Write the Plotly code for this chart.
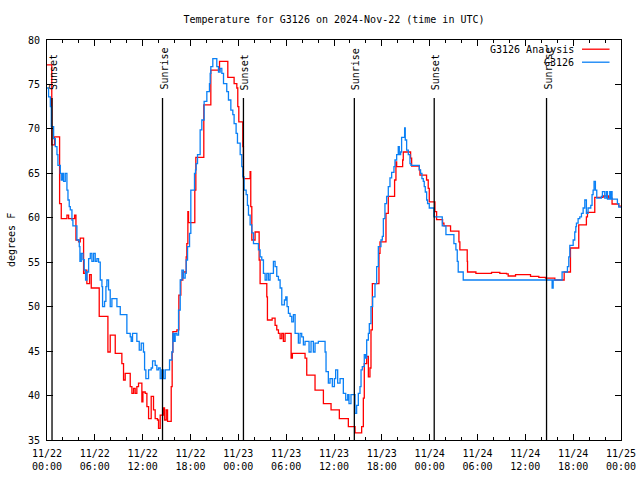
import pandas as pd
import plotly.graph_objects as go

# ---------------- data ----------------
base_time = "2024-11-22 00:00"

# G3126 Analysis (red) : hours after 11/22 00:00 UTC, temperature (F)
analysis_hours = [0, 0.6, 0.95, 1.58, 1.79, 2.5, 2.71, 3.46, 3.63, 3.96, 4.17, 4.59, 4.8, 5.0, 5.34, 5.55,
                  6.55, 7.64, 7.93, 8.56, 9.39, 9.6, 9.81, 10.44, 10.65, 10.86, 11.06, 11.27, 11.48, 11.9,
                  12.03, 12.32, 12.53, 12.74, 13.07, 13.36, 13.57, 13.86, 13.99, 14.2, 14.6, 14.74, 14.95,
                  15.12, 15.58, 15.7, 15.79, 16.29, 16.54, 16.79, 17.04, 17.46, 17.54, 17.67, 17.75, 18.54,
                  18.67, 19.67, 20.55, 21.64, 22.68, 23.47, 23.81, 23.93, 24.06, 24.56, 24.64, 25.48, 25.56,
                  25.69, 26.1, 26.61, 26.73, 27.57, 27.65, 28.24, 28.61, 28.82, 29.03, 29.24, 29.45, 29.65,
                  29.86, 30.62, 30.78, 32.37, 32.58, 33.62, 34.67, 35.63, 36.67, 37.8, 38.64, 39.47, 39.68,
                  39.8, 40.1, 40.31, 40.51, 40.64, 40.81, 41.64, 41.77, 42.52, 42.81, 43.6, 43.77, 43.86,
                  44.61, 44.69, 45.61, 45.74, 46.7, 46.78, 47.61, 47.82, 47.95, 48.66, 48.87, 49.62, 49.79,
                  50.62, 51.67, 51.79, 52.71, 52.75, 53.8, 55.76, 56.8, 57.64, 57.85, 58.77, 60.65, 61.69,
                  62.53, 63.7, 64.87, 65.66, 66.7, 67.66, 67.79, 68.71, 69.75, 70.46, 70.88, 71.72, 72.0]
analysis_temps = [77.2, 68.2, 69.1, 61.6, 59.9, 60.3, 59.9, 60.3, 57.5, 57.3, 57.7, 53.75, 54.1, 52.6, 53.6, 52.1,
                  48.9, 44.9, 46.8, 44.75, 43.6, 41.75, 42.5, 41.0, 40.25, 40.8, 40.25, 41.0, 41.4, 39.3,
                  40.4, 40.25, 38.75, 37.4, 39.9, 38.4, 37.4, 37.25, 36.3, 37.8, 38.6, 37.25, 38.4,
                  37.1, 41.0, 44.9, 47.2, 47.4, 51.3, 53.0, 53.9, 55.6, 57.1, 60.7, 59.45, 63.1,
                  66.8, 72.7, 76.6, 77.6, 75.8, 75.1, 74.6, 72.5, 70.8, 68.0, 64.4, 65.2, 61.25,
                  57.5, 58.4, 55.25, 52.6, 51.1, 48.5, 48.7, 47.9, 47.4, 47.0, 46.4, 47.0, 46.1,
                  47.0, 44.2, 44.75, 44.2, 42.3, 40.6, 39.1, 38.4, 37.4, 36.5, 35.8, 36.5, 39.7,
                  43.6, 44.4, 42.1, 43.1, 47.4, 52.6, 56.0, 57.3, 60.5, 62.4, 64.25, 66.3, 65.75,
                  66.5, 67.4, 66.7, 65.8, 65.4, 64.8, 64.25, 63.3, 61.8, 60.7, 59.8, 59.4, 59.1,
                  58.5, 57.3, 56.4, 55.1, 53.9, 53.75, 53.85, 53.75, 53.7, 53.45, 53.6, 53.4, 53.3,
                  53.2, 53.0, 53.9, 56.6, 59.2, 60.1, 60.6, 62.3, 62.45, 62.2, 61.55, 61.3, 61.3]

# G3126 observations (blue)
obs_hours = [0, 0.2, 0.42, 0.54, 0.83, 1.04, 1.25, 1.37, 1.67, 1.79, 1.96, 2.08, 2.29, 2.5, 2.63, 2.79,
             2.92, 3.13, 3.25, 3.75, 4.05, 4.13, 4.3, 4.51, 4.67, 4.84, 5.01, 5.22, 5.43, 5.63, 5.84,
             6.05, 6.26, 6.47, 6.68, 6.89, 6.97, 7.22, 7.39, 7.51, 7.72, 7.93, 8.14, 8.77, 9.19, 10.02,
             10.44, 10.56, 10.73, 11.27, 11.57, 11.82, 12.1, 12.24, 12.4, 12.74, 13.07, 13.24, 13.57,
             13.78, 13.99, 14.2, 14.4, 14.62, 14.83, 15.37, 15.66, 15.79, 15.95, 16.08, 16.29, 16.5,
             16.71, 16.92, 17.12, 17.33, 17.46, 17.63, 17.88, 18.04, 18.5, 18.63, 18.71, 18.88, 19.21,
             19.42, 19.71, 20.05, 20.38, 20.47, 20.55, 20.8, 21.3, 21.51, 21.72, 21.93, 22.14, 22.55,
             22.76, 23.06, 23.31, 23.47, 23.72, 23.89, 24.23, 24.43, 24.56, 24.73, 24.98, 25.14, 25.27,
             25.48, 25.69, 25.9, 26.52, 26.73, 26.94, 27.15, 27.36, 27.57, 27.78, 27.98, 28.4, 28.61,
             28.82, 29.03, 29.24, 29.45, 29.78, 29.95, 30.11, 30.28, 30.49, 30.7, 30.91, 31.12, 31.53,
             31.74, 31.95, 32.16, 32.37, 32.87, 33.12, 33.41, 33.62, 34.04, 34.88, 35.0, 35.29, 35.5,
             35.79, 36.05, 36.21, 36.46, 36.76, 37.17, 37.47, 37.72, 37.88, 38.13, 38.64, 38.84, 39.05,
             39.26, 39.39, 39.55, 39.8, 39.97, 40.1, 40.31, 40.43, 40.64, 40.85, 41.14, 41.35, 41.56,
             41.89, 42.06, 42.19, 42.39, 42.6, 42.81, 43.02, 43.23, 43.52, 43.65, 43.86, 44.06, 44.19,
             44.36, 44.48, 44.86, 44.94, 45.11, 45.32, 45.53, 45.65, 46.7, 46.86, 47.03, 47.2, 47.32,
             47.45, 47.62, 47.74, 47.95, 48.53, 49.58, 50.04, 51.04, 51.29, 51.46, 51.58, 52.21, 63.36,
             63.49, 64.61, 65.28, 65.45, 65.58, 66.0, 66.2, 66.33, 66.41, 66.62, 66.83, 67.04, 67.25,
             67.46, 67.66, 67.87, 68.21, 68.37, 68.5, 68.62, 68.79, 68.96, 69.54, 69.67, 69.96, 70.17,
             70.3, 70.59, 70.71, 70.8, 70.88, 71.55, 71.72, 72.0]
obs_temps = [74.6, 73.6, 72.5, 70.25, 68.9, 68.0, 67.1, 65.9, 65.0, 64.25, 65.0, 64.1, 65.0, 63.1, 62.0, 61.25,
             60.9, 59.75, 59.1, 57.5, 56.75, 55.1, 56.0, 55.3, 54.1, 53.0, 53.9, 55.4, 56.0, 55.1, 56.0,
             55.1, 55.4, 55.0, 53.0, 52.25, 50.0, 50.6, 52.25, 53.0, 51.9, 50.0, 50.9, 50.0, 49.1, 47.0,
             46.6, 46.1, 47.0, 46.1, 45.1, 45.9, 44.9, 42.9, 41.9, 42.9, 43.1, 43.9, 43.4,
             42.9, 43.1, 41.9, 42.9, 41.9, 42.9, 44.0, 44.9, 47.0, 46.1, 47.0, 46.8, 49.6,
             53.0, 54.1, 53.2, 53.75, 55.25, 56.75, 58.25, 63.1, 65.0, 65.4, 66.1, 67.1, 69.9,
             71.0, 73.1, 74.2, 75.1, 76.25, 77.0, 77.9, 77.0, 76.4, 76.8, 76.25, 75.1, 74.2,
             73.25, 72.1, 71.6, 70.6, 69.5, 68.4, 67.1, 65.75, 64.6, 63.1, 62.6, 61.4, 60.3,
             59.2, 58.3, 57.1, 56.4, 55.6, 55.25, 53.75, 53.0, 53.75, 53.0, 53.75, 55.1, 54.5,
             53.4, 53.0, 52.1, 50.2, 50.75, 51.1, 50.0, 49.25, 48.9, 48.3, 49.1, 47.0, 45.9,
             47.0, 46.6, 45.7, 46.1, 44.9, 46.1, 44.9, 45.9, 46.1, 44.9, 42.7, 41.4, 41.9,
             41.0, 41.9, 42.9, 41.4, 41.9, 40.25, 39.5, 40.1, 39.1, 40.1, 38.0, 38.9, 40.25,
             41.0, 42.9, 43.25, 44.6, 44.2, 46.25, 47.0, 48.1, 50.0, 51.1, 52.6, 54.5, 56.75,
             57.5, 57.9, 59.9, 61.6, 62.4, 63.5, 64.5, 65.1, 65.75, 66.5, 67.1, 68.0, 67.1,
             67.4, 69.05, 70.1, 68.75, 67.6, 67.1, 66.1, 65.9, 65.4, 65.0, 64.4, 64.1, 63.5,
             62.9, 62.0, 61.6, 61.1, 60.1, 59.1, 58.1, 57.1, 56.4, 55.1, 53.9, 53.0, 52.1,
             53.0, 53.9, 54.5, 55.6, 56.9, 57.5, 58.4, 59.0, 59.4, 59.9, 60.1, 60.5, 61.1,
             62.0, 60.5, 61.1, 61.4, 62.6, 63.1, 64.1, 63.1, 62.2, 62.4, 62.95, 62.2, 62.95,
             62.1, 62.95, 62.1, 62.95, 62.1, 61.6, 61.2, 61.2]

# Sun events (hours after 11/22 00:00 UTC)
sun_hours = [0.63, 14.49, 24.64, 38.55, 48.57, 62.66]
sun_labels = ["Sunset", "Sunrise", "Sunset", "Sunrise", "Sunset", "Sunrise"]

series_names = ["G3126 Analysis", "G3126"]
series_colors = ["#ff0000", "#0a80f5"]

# ---------------- figure ----------------
t0 = pd.Timestamp(base_time)
to_time = lambda hrs: [t0 + pd.Timedelta(hours=h) for h in hrs]

FONT = "DejaVu Sans Mono"
fig = go.Figure()
fig.add_trace(go.Scatter(x=to_time(analysis_hours), y=analysis_temps, mode="lines",
                         line=dict(color=series_colors[0], width=1.3, shape="hv"),
                         name=series_names[0], showlegend=False))
fig.add_trace(go.Scatter(x=to_time(obs_hours), y=obs_temps, mode="lines",
                         line=dict(color=series_colors[1], width=1.3, shape="hv"),
                         name=series_names[1], showlegend=False))

for t, lab in zip(to_time(sun_hours), sun_labels):
    fig.add_shape(type="line", xref="x", yref="paper", x0=t, x1=t, y0=0, y1=0.855,
                  line=dict(color="black", width=1.3))
    fig.add_annotation(x=t, y=0.87, xref="x", yref="paper", text=lab, textangle=-90,
                       showarrow=False, xanchor="center", yanchor="bottom", xshift=1,
                       font=dict(family=FONT, size=10, color="black"))

# legend drawn gnuplot style: text then line sample
for i, (nm, col) in enumerate(zip(series_names, series_colors)):
    yy = 0.977 - i * 0.0325
    fig.add_annotation(x=0.921, y=yy, xref="paper", yref="paper", text=nm, showarrow=False,
                       xanchor="right", yanchor="middle",
                       font=dict(family=FONT, size=10, color="black"))
    fig.add_shape(type="line", xref="paper", yref="paper", x0=0.932, x1=0.98, y0=yy, y1=yy,
                  line=dict(color=col, width=1.3))

fig.add_annotation(x=-0.0627, y=0.5, xref="paper", yref="paper", text="degrees F",
                   textangle=-90, showarrow=False, xanchor="center", yanchor="middle",
                   font=dict(family=FONT, size=10, color="black"))

fig.update_layout(
    width=640, height=480,
    margin=dict(l=47, r=19, t=40, b=40, autoexpand=False),
    paper_bgcolor="white", plot_bgcolor="white",
    font=dict(family=FONT, size=10, color="black"),
    title=dict(text="Temperature for G3126 on 2024-Nov-22 (time in UTC)", x=0.5, xref="paper",
               y=1 - 19 / 480, yref="container", xanchor="center", yanchor="middle",
               font=dict(family=FONT, size=10, color="black")),
    showlegend=False,
)
fig.update_xaxes(range=[t0, t0 + pd.Timedelta(hours=72)], dtick=6 * 3600 * 1000, tick0=t0,
                 tickformat="%m/%d<br>%H:%M", ticks="inside", ticklen=6, tickcolor="black",
                 mirror="allticks", showline=True, linecolor="black", linewidth=1, showgrid=False,
                 zeroline=False, automargin=False, ticklabelstandoff=4,
                 minor=dict(dtick=2 * 3600 * 1000, ticks="inside", ticklen=3, tickcolor="black",
                            showgrid=False))
fig.update_yaxes(range=[35, 80], dtick=5, ticks="inside", ticklen=6, tickcolor="black",
                 mirror="allticks", showline=True, linecolor="black", linewidth=1, showgrid=False,
                 zeroline=False, ticklabelstandoff=4, automargin=False)

fig.write_html("out.html", config={"displayModeBar": False},
               post_script="document.body.style.margin='0px';")
